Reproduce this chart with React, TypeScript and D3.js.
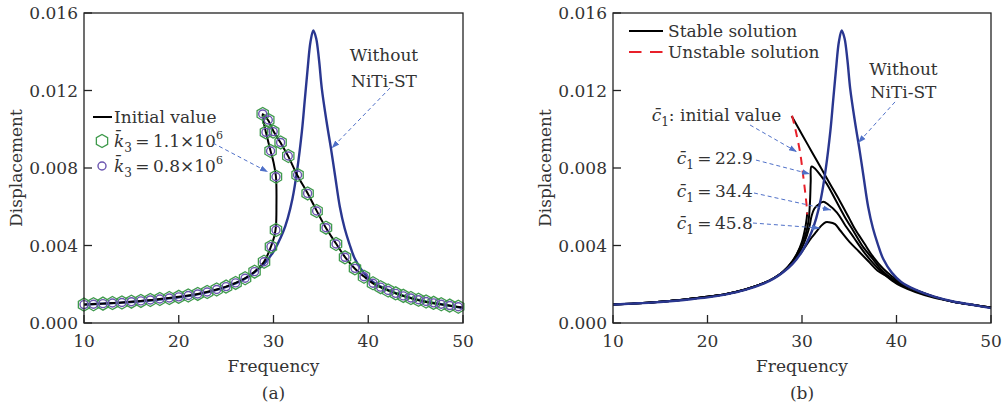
import React from 'react';
import * as d3 from 'd3';

type Pt = [number, number];

const freqTicks = [10, 20, 30, 40, 50];
const dispTicks = [0, 0.004, 0.008, 0.012, 0.016];

// Without NiTi-ST (same curve in both panels)
const withoutNiTi: Pt[] = [
  [10, 0.00095], [12, 0.001], [14, 0.00105], [16, 0.00112], [18, 0.00121], [20, 0.00132],
  [22, 0.00148], [24, 0.00171], [26, 0.00205], [27, 0.00229], [28, 0.00262], [29, 0.00305],
  [30, 0.00369], [31, 0.00468], [31.5, 0.0054], [32, 0.00641], [32.5, 0.0079], [33, 0.0099],
  [33.3, 0.0115], [33.6, 0.0131], [33.9, 0.0145], [34.2, 0.0151], [34.5, 0.0147], [34.8, 0.0136],
  [35.1, 0.0121], [35.6, 0.0104], [36.1, 0.0089], [36.5, 0.0076], [37, 0.006], [37.5, 0.0049],
  [38, 0.0041], [38.6, 0.0033], [39.5, 0.0026], [40.5, 0.00212], [42, 0.00172], [44, 0.00136],
  [46, 0.00111], [48, 0.00094], [50, 0.00077]
];

// panel (a): initial value
const initialValueA: Pt[] = [
  [10, 0.00095], [12, 0.001], [14, 0.00106], [16, 0.00114], [18, 0.00124], [20, 0.00135],
  [22, 0.0015], [24, 0.00173], [25, 0.00188], [26, 0.00207], [27, 0.00231], [28, 0.00265],
  [29, 0.00316], [29.7, 0.0039], [30.1, 0.0045], [30.26, 0.005], [30.31, 0.006], [30.26, 0.00755],
  [30.0, 0.0083], [29.69, 0.00888], [29.2, 0.00984], [28.95, 0.0104], [28.86, 0.01078],
  [29.45, 0.01045], [30.0, 0.0099], [30.75, 0.0093], [31.56, 0.0086], [32.54, 0.0076],
  [33.6, 0.0067], [34.55, 0.0058], [35.54, 0.0049], [36.6, 0.0041], [37.55, 0.0034],
  [38.6, 0.0028], [39.55, 0.0024], [40.5, 0.00205], [42, 0.0017], [44, 0.00135], [46, 0.0011],
  [48, 0.00094], [50, 0.0008]
];

// k3 = 1.1e6 and k3 = 0.8e6 fall on the same points
const k3High: Pt[] = [
  [10, 0.00095], [11, 0.00097], [12, 0.001], [13, 0.00103], [14, 0.00106], [15, 0.0011],
  [16, 0.00114], [17, 0.00119], [18, 0.00124], [19, 0.00129], [20, 0.00135], [21, 0.00142],
  [22, 0.0015], [23, 0.0016], [24, 0.00173], [25, 0.00188], [26, 0.00207], [27, 0.00231],
  [28, 0.00265], [29, 0.00316], [29.73, 0.00394], [30.26, 0.0048], [30.26, 0.00755],
  [29.69, 0.00888], [29.2, 0.00984], [28.86, 0.01079], [29.45, 0.01048], [29.97, 0.00988],
  [30.75, 0.00932], [31.56, 0.00862], [32.54, 0.00764], [33.6, 0.00669], [34.55, 0.00578],
  [35.54, 0.00492], [36.6, 0.00408], [37.55, 0.00339], [38.6, 0.00282], [39.55, 0.00239],
  [40.5, 0.00205], [41.3, 0.00185], [42.1, 0.00168], [42.9, 0.00153], [43.7, 0.0014],
  [44.5, 0.00129], [45.3, 0.0012], [46.1, 0.00111], [46.9, 0.00104], [47.7, 0.00097],
  [48.6, 0.0009], [49.5, 0.00084]
];
const k3Low: Pt[] = k3High.map(d => [d[0], d[1]] as Pt);

// panel (b)
const lowerB: Pt[] = [
  [10, 0.00095], [12, 0.001], [14, 0.00106], [16, 0.00114], [18, 0.00124], [20, 0.00135],
  [22, 0.0015], [24, 0.00173], [26, 0.00207], [27, 0.00231], [28, 0.00265]
];
const initialLowB: Pt[] = [[29, 0.0032], [29.5, 0.0036], [30, 0.0042], [30.3, 0.0048], [30.5, 0.0054], [30.55, 0.0057]];
const initialHighB: Pt[] = [
  [28.9, 0.01068], [30, 0.00973], [31, 0.00887], [32, 0.00801], [33, 0.00715], [34, 0.0063],
  [35, 0.0054], [35.54, 0.0049], [36, 0.00455], [36.6, 0.0041], [37.55, 0.0034], [38.6, 0.0028],
  [39.55, 0.0024], [40.5, 0.00205], [42, 0.0017], [44, 0.00135], [46, 0.0011], [48, 0.00094], [50, 0.0008]
];
const unstableB: Pt[] = [[28.95, 0.0107], [29.3, 0.01], [29.8, 0.0088], [30.1, 0.0077], [30.35, 0.0067], [30.5, 0.006], [30.55, 0.0056]];
const c1_229: Pt[] = [
  [29, 0.0032], [29.5, 0.0036], [30, 0.0041], [30.4, 0.0046], [30.7, 0.0053], [30.85, 0.0063],
  [30.92, 0.0073], [31, 0.00807], [31.3, 0.008], [32, 0.0076], [32.6, 0.0072], [33.5, 0.0064],
  [34.5, 0.0055], [35.5, 0.0047], [36.5, 0.0039], [37.5, 0.0033], [38.5, 0.0027], [39.5, 0.0023],
  [40.5, 0.002], [42, 0.0017], [44, 0.00135], [46, 0.0011], [48, 0.00094], [50, 0.0008]
];
const c1_344: Pt[] = [
  [29, 0.0031], [30, 0.0039], [30.5, 0.0045], [30.8, 0.005], [31, 0.0055], [31.3, 0.0059],
  [31.7, 0.0061], [32.25, 0.00626], [32.8, 0.0061], [33.7, 0.0057], [34.5, 0.0051], [35.5, 0.0044],
  [36.5, 0.0037], [37.5, 0.0031], [38.5, 0.0026], [39.5, 0.0022], [40.5, 0.0019], [42, 0.0016],
  [44, 0.0013], [46, 0.0011], [48, 0.00094], [50, 0.0008]
];
const c1_458: Pt[] = [
  [29, 0.0031], [30, 0.0037], [31, 0.0044], [31.5, 0.0047], [32, 0.005], [32.5, 0.0052],
  [32.86, 0.0052], [33.5, 0.0051], [34, 0.0048], [35, 0.0042], [36, 0.0037], [37, 0.0032],
  [38, 0.0027], [39, 0.0024], [40, 0.0021], [42, 0.0017], [44, 0.00135], [46, 0.0011],
  [48, 0.00094], [50, 0.0008]
];

const FONT = '"DejaVu Serif", serif';
const FS = 17;
const BLUE = '#2a3790';
const ARROW = '#4f70c8';
const GREEN = '#3f9a4c';
const PURPLE = '#6b55b0';
const INK = '#222';

const Axes = ({x, y, tag}: {x: d3.ScaleLinear<number, number>, y: d3.ScaleLinear<number, number>, tag: string}) => {
  const [x0, x1] = x.range();
  const [y0, y1] = y.range();
  return (
    <g fill="#333" fontSize={FS}>
      <rect x={x0} y={y1} width={x1 - x0} height={y0 - y1} fill="none" stroke={INK} strokeWidth={1.3}/>
      {freqTicks.map(t => (
        <g key={t}>
          <line x1={x(t)} x2={x(t)} y1={y0} y2={y0 - 8} stroke={INK} strokeWidth={1.3}/>
          <text x={x(t)} y={y0 + 24} textAnchor="middle">{t}</text>
        </g>
      ))}
      {dispTicks.map(t => (
        <g key={t}>
          <line x1={x0} x2={x0 + 8} y1={y(t)} y2={y(t)} stroke={INK} strokeWidth={1.3}/>
          <text x={x0 - 6} y={y(t) + 6} textAnchor="end">{t.toFixed(3)}</text>
        </g>
      ))}
      <text x={(x0 + x1) / 2} y={y0 + 49} textAnchor="middle">Frequency</text>
      <text transform={`translate(${x0 - 62},${(y0 + y1) / 2}) rotate(-90)`} textAnchor="middle">Displacement</text>
      <text x={(x0 + x1) / 2} y={y0 + 76} textAnchor="middle">({tag})</text>
    </g>
  );
};

const hexagon = (cx: number, cy: number, r: number) =>
  d3.range(6).map(i => {
    const a = Math.PI / 2 + i * Math.PI / 3;
    return [cx + r * Math.cos(a), cy + r * Math.sin(a)].join(',');
  }).join(' ');

const Arrow = ({x, y, from, to}: {x: any, y: any, from: Pt, to: Pt}) => (
  <line x1={x(from[0])} y1={y(from[1])} x2={x(to[0])} y2={y(to[1])}
    stroke={ARROW} strokeWidth={1} strokeDasharray="4 3" markerEnd="url(#head)"/>
);

const C1 = ({px, py, rest}: {px: number, py: number, rest: string}) => (
  <text x={px} y={py} fill="#333" fontSize={FS}>
    <tspan fontStyle="italic">{'c\u0304'}</tspan>
    <tspan dy={5} fontSize={12}>1</tspan>
    <tspan dy={-5}>{rest}</tspan>
  </text>
);

const App = () => {
  const yA = d3.scaleLinear().domain([0, 0.016]).range([323, 13]);
  const xA = d3.scaleLinear().domain([10, 50]).range([84, 463]);
  const xB = d3.scaleLinear().domain([10, 50]).range([613, 991]);
  const yB = yA;

  const lineA = d3.line<Pt>().x(d => xA(d[0])).y(d => yA(d[1])).curve(d3.curveCatmullRom.alpha(0.5));
  const lineB = d3.line<Pt>().x(d => xB(d[0])).y(d => yB(d[1])).curve(d3.curveCatmullRom.alpha(0.5));

  const lx = xA(10) + 9;

  return (
    <svg width={1003} height={410} style={{position: 'absolute', left: 0, top: 0, background: '#fff', fontFamily: FONT}}>
      <defs>
        <marker id="head" viewBox="0 0 10 10" refX="10" refY="5" markerWidth="8" markerHeight="8" markerUnits="userSpaceOnUse" orient="auto">
          <path d="M0,1.5 L10,5 L0,8.5 z" fill={ARROW}/>
        </marker>
      </defs>

      {/* panel (a) */}
      <path d={lineA(withoutNiTi) || ''} fill="none" stroke={BLUE} strokeWidth={2.4}/>
      <path d={lineA(initialValueA) || ''} fill="none" stroke="#000" strokeWidth={2}/>
      {k3High.map((d, i) => (
        <polygon key={'h' + i} points={hexagon(xA(d[0]), yA(d[1]), 6.5)} fill="none" stroke={GREEN} strokeWidth={1.3}/>
      ))}
      {k3Low.map((d, i) => (
        <circle key={'c' + i} cx={xA(d[0])} cy={yA(d[1])} r={4} fill="none" stroke={PURPLE} strokeWidth={1.4}/>
      ))}
      <Axes x={xA} y={yA} tag="a"/>

      <g fontSize={FS} fill="#333">
        <line x1={lx} x2={lx + 19} y1={117} y2={117} stroke="#000" strokeWidth={2}/>
        <text x={lx + 21} y={123}>Initial value</text>
        <polygon points={hexagon(lx + 9, 141, 6.5)} fill="none" stroke={GREEN} strokeWidth={1.3}/>
        <text x={lx + 21} y={147}>
          <tspan fontStyle="italic">{'k\u0304'}</tspan><tspan dy={5} fontSize={12}>3</tspan>
          <tspan dy={-5}>{'\u2009=\u20091.1\u00d710'}</tspan><tspan dy={-8} fontSize={11}>6</tspan>
        </text>
        <circle cx={lx + 9} cy={166} r={4} fill="none" stroke={PURPLE} strokeWidth={1.4}/>
        <text x={lx + 21} y={172}>
          <tspan fontStyle="italic">{'k\u0304'}</tspan><tspan dy={5} fontSize={12}>3</tspan>
          <tspan dy={-5}>{'\u2009=\u20090.8\u00d710'}</tspan><tspan dy={-8} fontSize={11}>6</tspan>
        </text>
      </g>
      <Arrow x={xA} y={yA} from={[23.6, 0.00929]} to={[29.42, 0.00779]}/>
      <text x={xA(41.66)} y={yA(0.0135)} textAnchor="middle" fontSize={FS} fill="#333">Without</text>
      <text x={xA(41.66)} y={yA(0.0122)} textAnchor="middle" fontSize={FS} fill="#333">NiTi-ST</text>
      <Arrow x={xA} y={yA} from={[42.3, 0.01213]} to={[36.14, 0.00902]}/>

      {/* panel (b) */}
      {[lowerB.concat(initialLowB), initialHighB, lowerB.concat(c1_229), lowerB.concat(c1_344), lowerB.concat(c1_458)].map((pts, i) => (
        <path key={i} d={lineB(pts) || ''} fill="none" stroke="#000" strokeWidth={2}/>
      ))}
      <path d={lineB(unstableB) || ''} fill="none" stroke="#e8202a" strokeWidth={2} strokeDasharray="8 6"/>
      <path d={lineB(withoutNiTi) || ''} fill="none" stroke={BLUE} strokeWidth={2.4}/>
      <Axes x={xB} y={yB} tag="b"/>

      <g fontSize={FS} fill="#333">
        <line x1={xB(10) + 16} x2={xB(10) + 50} y1={31} y2={31} stroke="#000" strokeWidth={2}/>
        <text x={xB(10) + 55} y={37}>Stable solution</text>
        <line x1={xB(10) + 16} x2={xB(10) + 50} y1={52} y2={52} stroke="#e8202a" strokeWidth={2} strokeDasharray="12.5 8.5"/>
        <text x={xB(10) + 55} y={58}>Unstable solution</text>
      </g>
      <text x={xB(40.74)} y={yB(0.0128)} textAnchor="middle" fontSize={FS} fill="#333">Without</text>
      <text x={xB(40.74)} y={yB(0.0116)} textAnchor="middle" fontSize={FS} fill="#333">NiTi-ST</text>
      <Arrow x={xB} y={yB} from={[39.84, 0.01141]} to={[35.93, 0.00929]}/>

      <C1 px={xB(14.09)} py={yB(0.01044)} rest=": initial value"/>
      <C1 px={xB(16.74)} py={yB(0.00821)} rest={'\u2009=\u200922.9'}/>
      <C1 px={xB(16.74)} py={yB(0.00652)} rest={'\u2009=\u200934.4'}/>
      <C1 px={xB(16.74)} py={yB(0.00485)} rest={'\u2009=\u200945.8'}/>
      <Arrow x={xB} y={yB} from={[24.5, 0.01022]} to={[29.47, 0.00883]}/>
      <Arrow x={xB} y={yB} from={[25.13, 0.00841]} to={[30.85, 0.00769]}/>
      <Arrow x={xB} y={yB} from={[24.92, 0.00671]} to={[33.07, 0.00583]}/>
      <Arrow x={xB} y={yB} from={[24.81, 0.00516]} to={[31.9, 0.0049]}/>
    </svg>
  );
};

export default App;
